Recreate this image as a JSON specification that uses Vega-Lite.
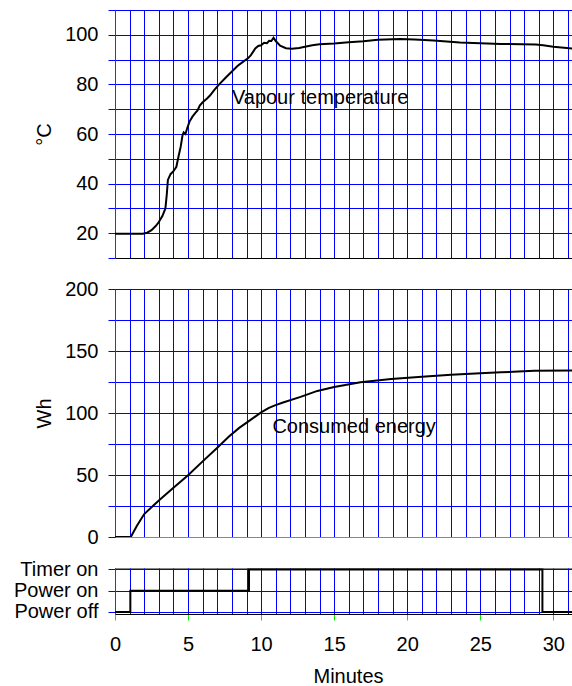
{
  "$schema": "https://vega.github.io/schema/vega-lite/v6.json",
  "padding": {"left": 13, "top": 9, "right": 0, "bottom": 0},
  "background": "white",
  "spacing": 31,
  "bounds": "flush",
  "resolve": {"scale": {"x": "shared", "y": "independent"}},
  "datasets": {
    "temp": [
      {"t": 0, "T": 19.8}, {"t": 1.9, "T": 19.8}, {"t": 2.2, "T": 20.2}, {"t": 2.5, "T": 21.2},
      {"t": 2.8, "T": 23}, {"t": 3.0, "T": 24.5}, {"t": 3.25, "T": 27}, {"t": 3.45, "T": 30},
      {"t": 3.55, "T": 36}, {"t": 3.62, "T": 41.5}, {"t": 3.8, "T": 43.8}, {"t": 4.0, "T": 45},
      {"t": 4.2, "T": 46.8}, {"t": 4.35, "T": 51}, {"t": 4.5, "T": 55}, {"t": 4.62, "T": 59.5},
      {"t": 4.7, "T": 60.6}, {"t": 4.82, "T": 60}, {"t": 4.95, "T": 62.5}, {"t": 5.1, "T": 65},
      {"t": 5.3, "T": 67}, {"t": 5.5, "T": 68.5}, {"t": 5.65, "T": 69.5}, {"t": 5.8, "T": 71.5},
      {"t": 6.0, "T": 72.8}, {"t": 6.3, "T": 74.3}, {"t": 6.5, "T": 75.5}, {"t": 6.8, "T": 77.8},
      {"t": 7.1, "T": 79.8}, {"t": 7.5, "T": 82.3}, {"t": 8.0, "T": 85.2}, {"t": 8.4, "T": 87.5},
      {"t": 8.8, "T": 89.3}, {"t": 9.1, "T": 90.5}, {"t": 9.3, "T": 91.8}, {"t": 9.6, "T": 94.5},
      {"t": 9.8, "T": 95.5}, {"t": 10.0, "T": 95.8}, {"t": 10.2, "T": 96.8}, {"t": 10.4, "T": 96.6},
      {"t": 10.55, "T": 97.6}, {"t": 10.7, "T": 97.5}, {"t": 10.85, "T": 98.8}, {"t": 11.0, "T": 97.5},
      {"t": 11.3, "T": 95.6}, {"t": 11.7, "T": 94.6}, {"t": 12.1, "T": 94.4}, {"t": 12.6, "T": 94.7},
      {"t": 13.0, "T": 95.2}, {"t": 13.5, "T": 95.8}, {"t": 14.0, "T": 96.2}, {"t": 15.0, "T": 96.5},
      {"t": 16.0, "T": 97}, {"t": 17.0, "T": 97.4}, {"t": 18.0, "T": 98}, {"t": 19.5, "T": 98.3},
      {"t": 20.5, "T": 98.1}, {"t": 21.8, "T": 97.7}, {"t": 23.6, "T": 96.9}, {"t": 25.0, "T": 96.6},
      {"t": 26.4, "T": 96.3}, {"t": 28.8, "T": 96.1}, {"t": 29.3, "T": 95.8}, {"t": 30.0, "T": 95.2},
      {"t": 31.5, "T": 94.3}
    ],
    "energy": [
      {"t": 0, "E": 0}, {"t": 1.08, "E": 0}, {"t": 1.5, "E": 9}, {"t": 2.0, "E": 18.5},
      {"t": 2.5, "E": 24}, {"t": 3.0, "E": 29.5}, {"t": 4.0, "E": 39.8}, {"t": 5.0, "E": 49.8},
      {"t": 6.0, "E": 61}, {"t": 7.0, "E": 72}, {"t": 7.8, "E": 81}, {"t": 8.5, "E": 88},
      {"t": 9.06, "E": 92.6}, {"t": 10.0, "E": 100.5}, {"t": 10.5, "E": 104}, {"t": 10.9, "E": 106},
      {"t": 11.5, "E": 108.5}, {"t": 12.7, "E": 113}, {"t": 13.85, "E": 117.8}, {"t": 15.0, "E": 121},
      {"t": 16.8, "E": 124.8}, {"t": 18.9, "E": 127.5}, {"t": 21.0, "E": 129.3}, {"t": 23.0, "E": 130.8},
      {"t": 25.0, "E": 132}, {"t": 26.4, "E": 132.8}, {"t": 28.7, "E": 134}, {"t": 31.5, "E": 134.2}
    ],
    "state": [
      {"t": 0, "s": 0}, {"t": 1.05, "s": 1}, {"t": 9.17, "s": 2}, {"t": 29.25, "s": 0}, {"t": 31.5, "s": 0}
    ]
  },
  "vconcat": [
    {
      "width": 460,
      "height": 248,
      "view": {"stroke": "#888888"},
      "resolve": {"axis": {"x": "independent", "y": "independent"}},
      "layer": [
        {
          "data": {"name": "temp"},
          "mark": {"type": "line", "color": "black", "strokeWidth": 2, "clip": true},
          "encoding": {
            "x": {
              "field": "t", "type": "quantitative",
              "scale": {"domain": [0, 31.48], "nice": false, "zero": false},
              "axis": {"values": [0,1,2,3,4,5,6,7,8,9,10,11,12,13,14,15,16,17,18,19,20,21,22,23,24,25,26,27,28,29,30,31],
                "grid": true, "labels": false, "ticks": false, "title": null, "domainColor": "black"}
            },
            "y": {
              "field": "T", "type": "quantitative",
              "scale": {"domain": [10, 110], "nice": false, "zero": false},
              "axis": {"values": [10,20,30,40,50,60,70,80,90,100,110],
                "labelExpr": "datum.value % 20 === 0 ? datum.label : ''",
                "labelFontSize": {"condition": {"test": "datum.value % 20 === 0", "value": 20}, "value": 0},
                "title": "°C", "titlePadding": 10}
            }
          }
        },
        {
          "data": {"values": [{"label": "Vapour temperature"}]},
          "mark": {"type": "text", "align": "left", "baseline": "alphabetic", "fontSize": 20, "font": "Liberation Sans", "color": "black"},
          "encoding": {
            "x": {"datum": 8.0, "type": "quantitative", "axis": null},
            "y": {"datum": 72.1, "type": "quantitative", "axis": null},
            "text": {"field": "label"}
          }
        }
      ]
    },
    {
      "width": 460,
      "height": 248,
      "view": {"stroke": "black"},
      "resolve": {"axis": {"x": "independent", "y": "independent"}},
      "layer": [
        {
          "data": {"name": "energy"},
          "mark": {"type": "line", "color": "black", "strokeWidth": 2, "clip": true},
          "encoding": {
            "x": {
              "field": "t", "type": "quantitative",
              "scale": {"domain": [0, 31.48], "nice": false, "zero": false},
              "axis": {"values": [0,1,2,3,4,5,6,7,8,9,10,11,12,13,14,15,16,17,18,19,20,21,22,23,24,25,26,27,28,29,30,31],
                "grid": true, "labels": false, "ticks": false, "title": null, "domainColor": "#888888"}
            },
            "y": {
              "field": "E", "type": "quantitative",
              "scale": {"domain": [0, 200], "nice": false, "zero": false},
              "axis": {"values": [0,25,50,75,100,125,150,175,200],
                "labelExpr": "datum.value % 50 === 0 ? datum.label : ''",
                "labelFontSize": {"condition": {"test": "datum.value % 50 === 0", "value": 20}, "value": 0},
                "title": "Wh", "titlePadding": 10}
            }
          }
        },
        {
          "data": {"values": [{"label": "Consumed energy"}]},
          "mark": {"type": "text", "align": "left", "baseline": "alphabetic", "fontSize": 20, "font": "Liberation Sans", "color": "black"},
          "encoding": {
            "x": {"datum": 10.77, "type": "quantitative", "axis": null},
            "y": {"datum": 83.5, "type": "quantitative", "axis": null},
            "text": {"field": "label"}
          }
        }
      ]
    },
    {
      "width": 460,
      "height": 46,
      "view": {"stroke": "#888888"},
      "data": {"name": "state"},
      "mark": {"type": "line", "color": "black", "strokeWidth": 2, "interpolate": "step-after", "clip": true},
      "encoding": {
        "x": {
          "field": "t", "type": "quantitative",
          "scale": {"domain": [0, 31.48], "nice": false, "zero": false},
          "axis": {"values": [0,1,2,3,4,5,6,7,8,9,10,11,12,13,14,15,16,17,18,19,20,21,22,23,24,25,26,27,28,29,30,31],
            "grid": true,
            "labelExpr": "datum.value % 5 === 0 ? datum.label : ''",
            "tickColor": {"condition": {"test": "datum.value % 5 === 0", "value": "#00ee00"}, "value": "transparent"},
            "tickSize": 6, "labelPadding": 14,
            "title": "Minutes", "titlePadding": 12, "titleX": 233, "domainColor": "black"}
        },
        "y": {
          "field": "s", "type": "quantitative",
          "scale": {"domain": [-0.1, 2.07], "nice": false, "zero": false},
          "axis": {"values": [0, 1, 2],
            "labelExpr": "['Power off', 'Power on', 'Timer on'][datum.value]",
            "title": null}
        }
      }
    }
  ],
  "config": {
    "font": "Liberation Sans",
    "axis": {
      "labelFont": "Liberation Sans", "titleFont": "Liberation Sans",
      "labelFontSize": 20, "titleFontSize": 20, "titleFontWeight": "normal",
      "labelColor": "black", "titleColor": "black",
      "labelFlush": false, "labelOverlap": false,
      "gridColor": "blue", "gridOpacity": 1, "gridWidth": 1
    },
    "axisY": {
      "tickColor": "blue", "tickSize": 7, "labelPadding": 10, "domainColor": "#444444"
    }
  }
}
